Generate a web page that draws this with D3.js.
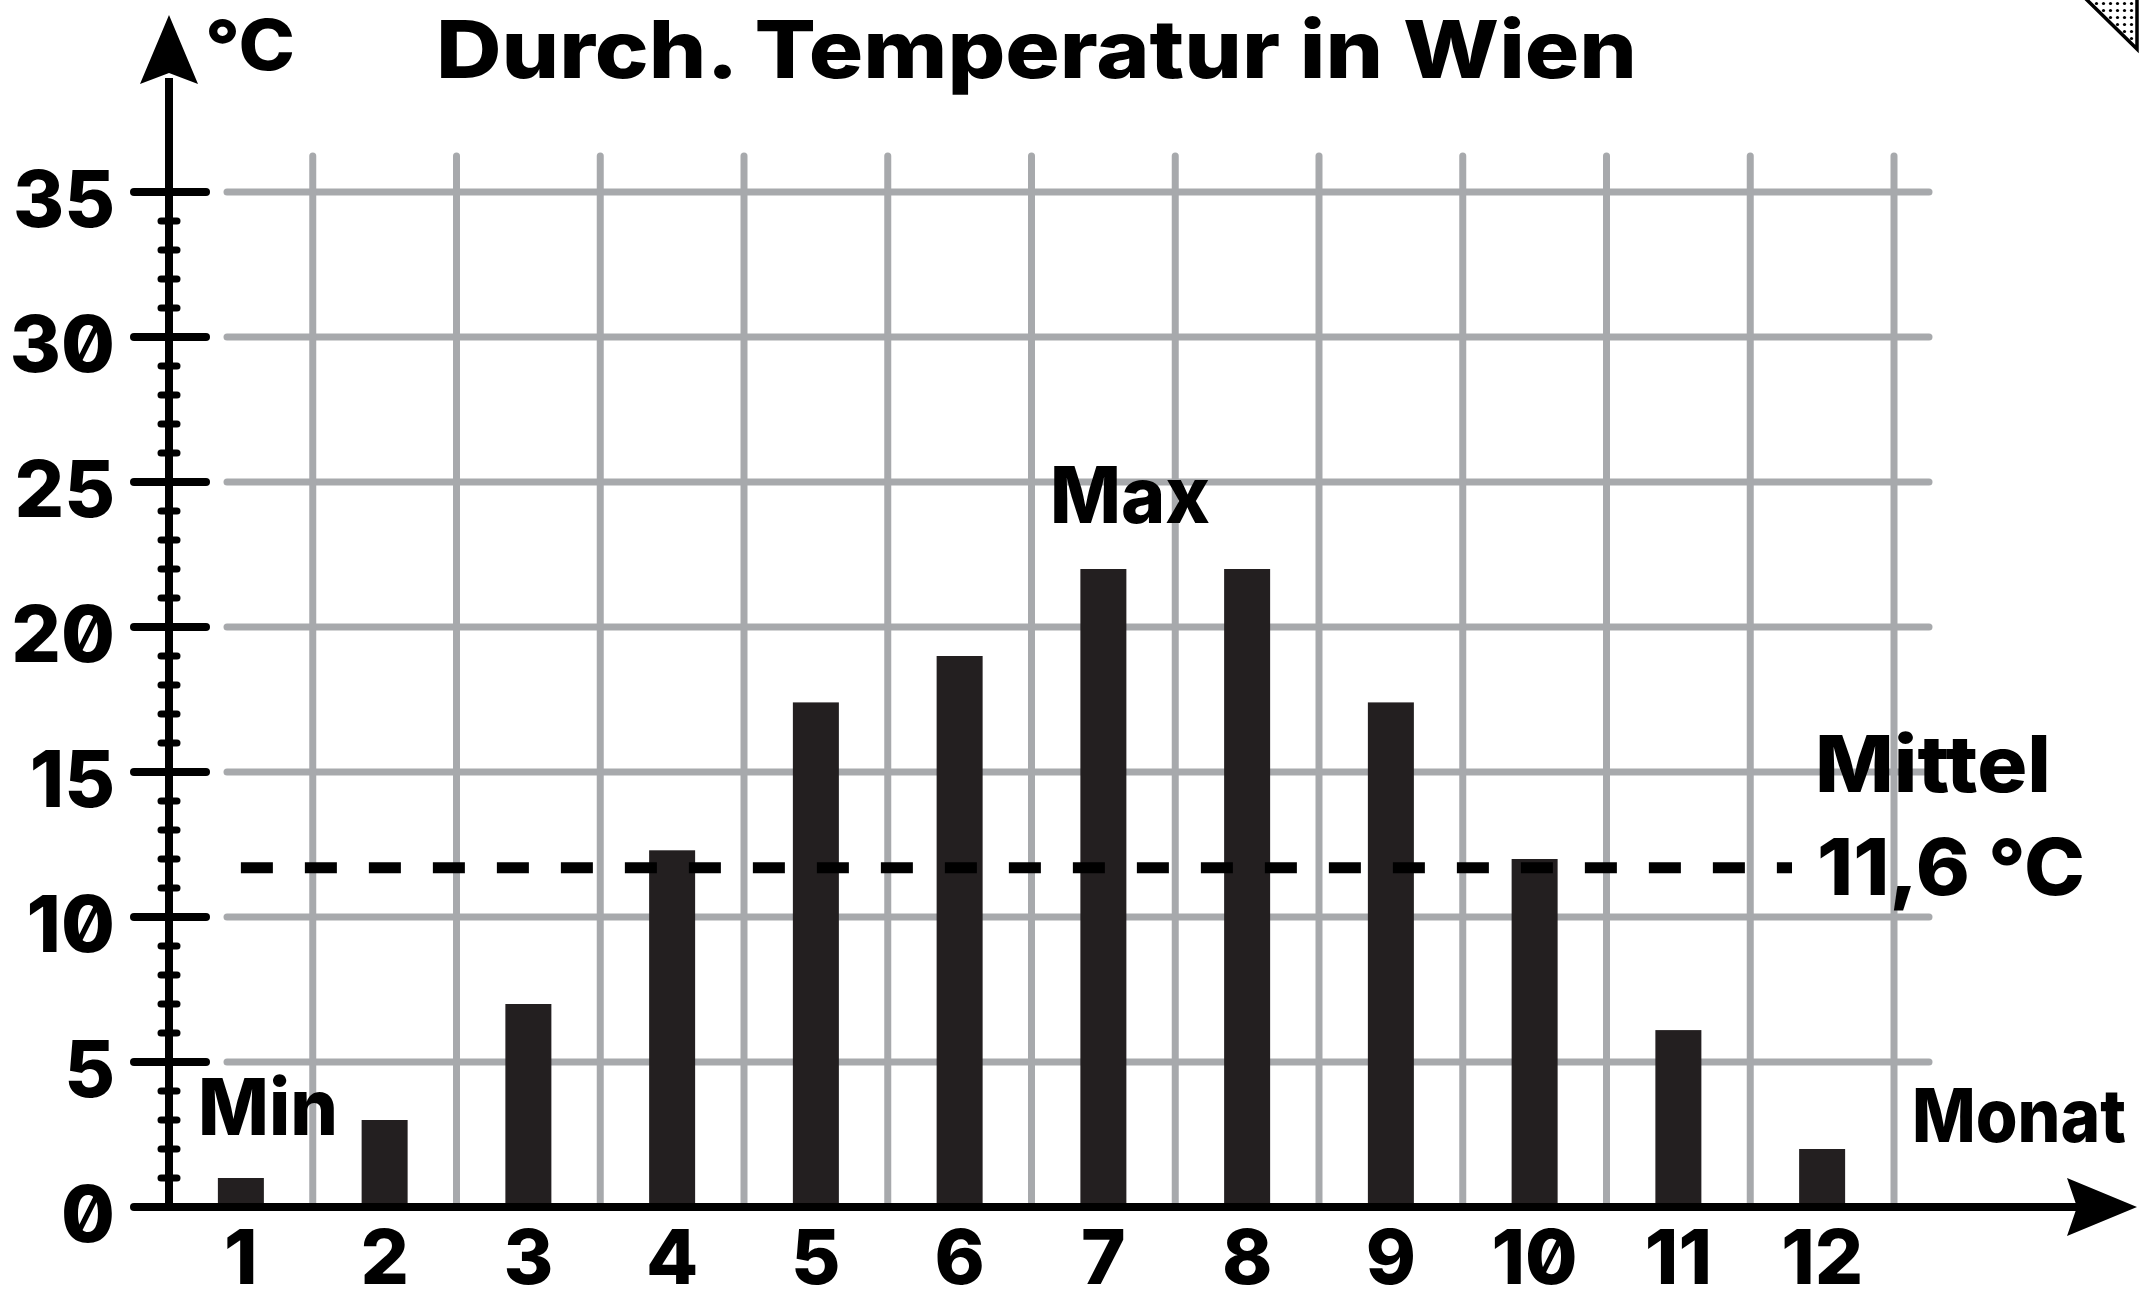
<!DOCTYPE html>
<html><head><meta charset="utf-8">
<script src="https://cdn.jsdelivr.net/npm/d3@7"></script>
<style>
html,body{margin:0;padding:0;background:#fff;}
svg{display:block;}
.lbl{font-family:Inter,"Liberation Sans",Arial,sans-serif;font-weight:800;fill:#000;}
.num{font-family:Inter,"Liberation Sans",sans-serif;font-weight:800;fill:#000;font-feature-settings:"zero" 1;}
</style></head>
<body>
<svg id="c" width="2148" height="1302"></svg>
<script>
// ---- data ----
const months = ["1","2","3","4","5","6","7","8","9","10","11","12"];
const temps = [1, 3, 7, 12.3, 17.4, 19, 22, 22, 17.4, 12, 6.1, 2];
const yTicks = [0, 5, 10, 15, 20, 25, 30, 35];
const meanValue = 11.7;
const meanLabel = "11,6 °C";
const title = "Durch. Temperatur in Wien";
const yUnit = "°C";
const xName = "Monat";

// ---- layout ----
const svg = d3.select("#c");
const X0 = 169, X1 = 1894, Y0 = 1207;
const x = d3.scaleBand().domain(months).range([X0, X1]).padding(0);
const y = d3.scaleLinear().domain([0, 35]).range([Y0, 192]);
const grey = "#a7a9ac";

// dot pattern for corner mark
const defs = svg.append("defs");
const pat = defs.append("pattern").attr("id","dots").attr("width",7).attr("height",7)
  .attr("patternUnits","userSpaceOnUse");
pat.append("circle").attr("cx",3.5).attr("cy",3.5).attr("r",1.6).attr("fill","#000");

// grid
const grid = svg.append("g");
grid.selectAll("line.h").data(yTicks.filter(d => d > 0)).join("line")
  .attr("x1", 227).attr("x2", 1929)
  .attr("y1", d => y(d)).attr("y2", d => y(d))
  .attr("stroke", grey).attr("stroke-width", 7).attr("stroke-linecap","round");
grid.selectAll("line.v").data(months).join("line")
  .attr("x1", d => x(d) + x.bandwidth()).attr("x2", d => x(d) + x.bandwidth())
  .attr("y1", 156).attr("y2", Y0)
  .attr("stroke", grey).attr("stroke-width", 7).attr("stroke-linecap","round");

// bars
const bw = x.bandwidth() * 0.32;
svg.append("g").selectAll("rect").data(temps).join("rect")
  .attr("x", (d,i) => x(months[i]) + x.bandwidth()/2 - bw/2)
  .attr("width", bw)
  .attr("y", d => y(d))
  .attr("height", d => Y0 - y(d))
  .attr("fill", "#231f20");

// mean dashed line
svg.append("line")
  .attr("x1", x(months[0]) + x.bandwidth()/2).attr("x2", 1792)
  .attr("y1", y(meanValue)).attr("y2", y(meanValue))
  .attr("stroke", "#000").attr("stroke-width", 11).attr("stroke-dasharray", "32 32");

// y axis line + arrow
svg.append("line").attr("x1", X0).attr("x2", X0).attr("y1", Y0 + 4).attr("y2", 78)
  .attr("stroke","#000").attr("stroke-width",8);
svg.append("path").attr("d", `M${X0},15 L${X0+29},84 L${X0},73 L${X0-29},84 Z`).attr("fill","#000");

// minor ticks
const minor = d3.range(1, 36).filter(d => d % 5 !== 0);
svg.append("g").selectAll("line").data(minor).join("line")
  .attr("x1", X0 - 8).attr("x2", X0 + 8)
  .attr("y1", d => y(d)).attr("y2", d => y(d))
  .attr("stroke","#000").attr("stroke-width",7).attr("stroke-linecap","round");
// major ticks
svg.append("g").selectAll("line").data(yTicks.filter(d => d > 0)).join("line")
  .attr("x1", 134).attr("x2", 206)
  .attr("y1", d => y(d)).attr("y2", d => y(d))
  .attr("stroke","#000").attr("stroke-width",8).attr("stroke-linecap","round");

// x axis line + arrow
svg.append("line").attr("x1", 134).attr("x2", 2080).attr("y1", Y0).attr("y2", Y0)
  .attr("stroke","#000").attr("stroke-width",8).attr("stroke-linecap","round");
svg.append("path").attr("d", `M2137,${Y0} L2067,${Y0-29} L2077,${Y0} L2067,${Y0+29} Z`).attr("fill","#000");

// y tick labels via axis
const ya = svg.append("g").attr("transform", `translate(${X0},0)`)
  .call(d3.axisLeft(y).tickValues(yTicks).tickSize(0).tickPadding(54));
ya.select(".domain").remove();
ya.selectAll("text").attr("class","num").attr("font-size",78).attr("dy",34).attr("fill","#000");

// x tick labels via axis
const xa = svg.append("g").attr("transform", `translate(0,${Y0})`)
  .call(d3.axisBottom(x).tickSize(0).tickPadding(0));
xa.select(".domain").remove();
xa.selectAll("text").attr("class","num").attr("font-size",76).attr("y",77).attr("dy",0).attr("fill","#000");

// texts
function txt(s, xx, yy, size, len, anchor){
  const t = svg.append("text").attr("class","lbl").attr("x",xx).attr("y",yy)
    .attr("font-size",size).attr("text-anchor", anchor || "start").text(s);
  if (len) t.attr("textLength",len).attr("lengthAdjust","spacingAndGlyphs");
  return t;
}
txt(title, 436, 78, 80, 1201);
txt(yUnit, 205, 70, 70, 90);
txt("Max", 1050, 523, 78, 160);
txt("Min", 198, 1135, 78, 140);
txt("Mittel", 1815, 792, 78, 236);
txt(meanLabel, 1817, 895, 78, 268);
txt(xName, 2126, 1142, 74, 214, "end");

// corner mark
svg.append("path").attr("d","M2085,-2 L2137,-2 L2137,49 Z")
  .attr("fill","url(#dots)").attr("stroke","#000").attr("stroke-width",3.5);
</script>
</body></html>
